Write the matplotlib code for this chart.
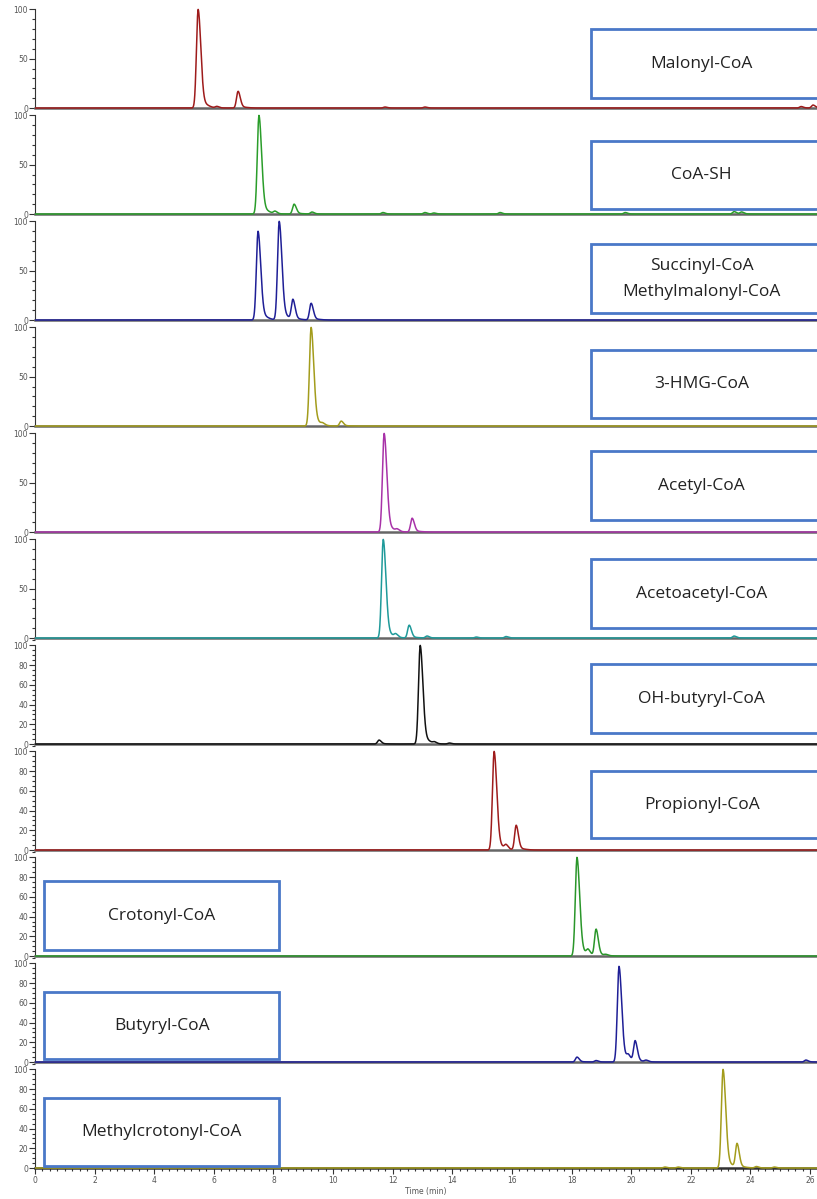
import matplotlib.pyplot as plt
import matplotlib.patches as patches
from matplotlib.ticker import MultipleLocator
import numpy as np

# Compound names (one panel each, top to bottom)
compounds = ['Malonyl-CoA', 'CoA-SH', 'Succinyl-CoA\nMethylmalonyl-CoA', '3-HMG-CoA',
             'Acetyl-CoA', 'Acetoacetyl-CoA', 'OH-butyryl-CoA', 'Propionyl-CoA',
             'Crotonyl-CoA', 'Butyryl-CoA', 'Methylcrotonyl-CoA']

# Peak retention times (min) and relative abundances (%)
malonyl_rt = [5.47, 6.10, 6.81, 11.74, 13.08, 25.70, 26.10]
malonyl_h = [100, 1.5, 17, 1, 1, 1.5, 3]
coash_rt = [7.51, 8.05, 8.69, 9.29, 11.67, 13.08, 13.38, 15.60, 19.80, 23.45, 23.70]
coash_h = [100, 2.5, 10, 2, 1.5, 1.5, 1, 1.5, 1.5, 2.5, 2]
succinyl_rt = [7.48, 8.19, 8.65, 9.26]
succinyl_h = [90, 100, 20, 17]
hmg_rt = [9.26, 9.65, 10.27]
hmg_h = [100, 1.5, 5]
acetyl_rt = [11.71, 12.15, 12.65]
acetyl_h = [100, 2, 14]
acetoacetyl_rt = [11.68, 12.10, 12.55, 13.15, 14.80, 15.80, 23.45]
acetoacetyl_h = [100, 3, 13, 2, 1, 1.5, 2]
ohbutyryl_rt = [11.54, 12.92, 13.40, 13.90]
ohbutyryl_h = [4, 100, 1.5, 1]
propionyl_rt = [15.40, 15.80, 16.14]
propionyl_h = [100, 4, 25]
crotonyl_rt = [18.18, 18.55, 18.82, 19.15]
crotonyl_h = [100, 5, 27, 1]
butyryl_rt = [18.18, 18.82, 19.59, 19.90, 20.13, 20.50, 25.86]
butyryl_h = [5, 1.5, 97, 5, 21, 1.5, 2]
methylcrotonyl_rt = [21.13, 21.57, 23.08, 23.55, 24.20, 24.80]
methylcrotonyl_h = [1, 1, 100, 24, 1.5, 1]

peak_rts = [malonyl_rt, coash_rt, succinyl_rt, hmg_rt, acetyl_rt, acetoacetyl_rt,
            ohbutyryl_rt, propionyl_rt, crotonyl_rt, butyryl_rt, methylcrotonyl_rt]
peak_hs = [malonyl_h, coash_h, succinyl_h, hmg_h, acetyl_h, acetoacetyl_h,
           ohbutyryl_h, propionyl_h, crotonyl_h, butyryl_h, methylcrotonyl_h]

colors = ['#9e1b1b', '#2a9d2a', '#1f1f96', '#a39c1c', '#a832a8', '#1f9a9a',
          '#111111', '#9e1b1b', '#2a962a', '#1f1f96', '#a39c1c']

# label box placement: (x0 min, y0 %, y1 %)
boxes = [(18.65, 10, 80), (18.65, 5, 74), (18.65, 7, 77), (18.65, 8, 77),
         (18.65, 12, 82), (18.65, 10, 80), (18.65, 11, 81), (18.65, 12, 80),
         (0.3, 6, 76), (0.3, 3, 71), (0.3, 2, 71)]

W, H = 817, 1199
fig = plt.figure(figsize=(W / 100, H / 100), dpi=100)

t = np.linspace(0, 26.25, 6000)
xmax = (W - 35) / (775 / 26)


def trace(rts, hs):
    y = np.zeros_like(t)
    for rt, h in zip(rts, hs):
        sl, sr = (0.055, 0.09) if h > 30 else (0.05, 0.075)
        s = np.where(t < rt, sl, sr)
        shape = np.exp(-0.5 * ((t - rt) / s) ** 2)
        # tailing shoulder
        st = np.where(t < rt, 0.07, 0.22)
        shape += 0.07 * np.exp(-0.5 * ((t - rt - 0.05) / st) ** 2)
        y += h * shape / shape.max()
    return y


for i, name in enumerate(compounds):
    base_px = 108 + 106 * i + 1.5
    ax = fig.add_axes([35 / W, 1 - base_px / H, (W - 35) / W, 106 / H])
    ax.plot(t, trace(peak_rts[i], peak_hs[i]), color=colors[i], lw=1.1, zorder=3)
    ax.set_xlim(0, xmax)
    ax.set_ylim(-1.5, 106)
    for s in ['top', 'right']:
        ax.spines[s].set_visible(False)
    ax.spines['left'].set_bounds(0, 100)
    ax.spines['left'].set_color('#333333')
    ax.spines['bottom'].set_color('#666666')
    ax.spines['bottom'].set_linewidth(1.8)
    ax.spines['bottom'].set_position(('data', 0))

    if i < 6:
        ax.yaxis.set_major_locator(MultipleLocator(50))
        ax.yaxis.set_minor_locator(MultipleLocator(10))
    else:
        ax.yaxis.set_major_locator(MultipleLocator(20))
        ax.yaxis.set_minor_locator(MultipleLocator(5))
    ax.tick_params(axis='y', which='major', length=4, width=0.8, labelsize=5.5,
                   labelcolor='#555555', color='#333333', pad=1)
    ax.tick_params(axis='y', which='minor', length=2.5, width=0.8, color='#333333')

    if i == len(compounds) - 1:
        ax.xaxis.set_major_locator(MultipleLocator(2))
        ax.xaxis.set_minor_locator(MultipleLocator(0.25))
        ax.tick_params(axis='x', which='major', length=4, width=0.8, labelsize=5.5,
                       labelcolor='#555555', color='#333333', pad=2)
        ax.tick_params(axis='x', which='minor', length=2, width=0.8, color='#333333')
        ax.spines['bottom'].set_color('#333333')
        ax.set_xlabel('Time (min)', fontsize=5.5, color='#555555', labelpad=1)
    else:
        ax.set_xticks([])

    x0, y0, y1 = boxes[i]
    x1 = x0 + 7.9 if x0 < 5 else xmax + 1
    rect = patches.Rectangle((x0, y0), x1 - x0, y1 - y0, fill=True, facecolor='white',
                             edgecolor='#4a78c8', lw=2, clip_on=False, zorder=4)
    ax.add_patch(rect)
    xc = (x0 + x1) / 2 if x0 < 5 else 22.37
    ax.text(xc, (y0 + y1) / 2, name, ha='center', va='center', fontsize=12.5,
            family=['Open Sans', 'DejaVu Sans'], color='#222222', zorder=5,
            linespacing=1.85)

fig.savefig('out.png', dpi=100)
